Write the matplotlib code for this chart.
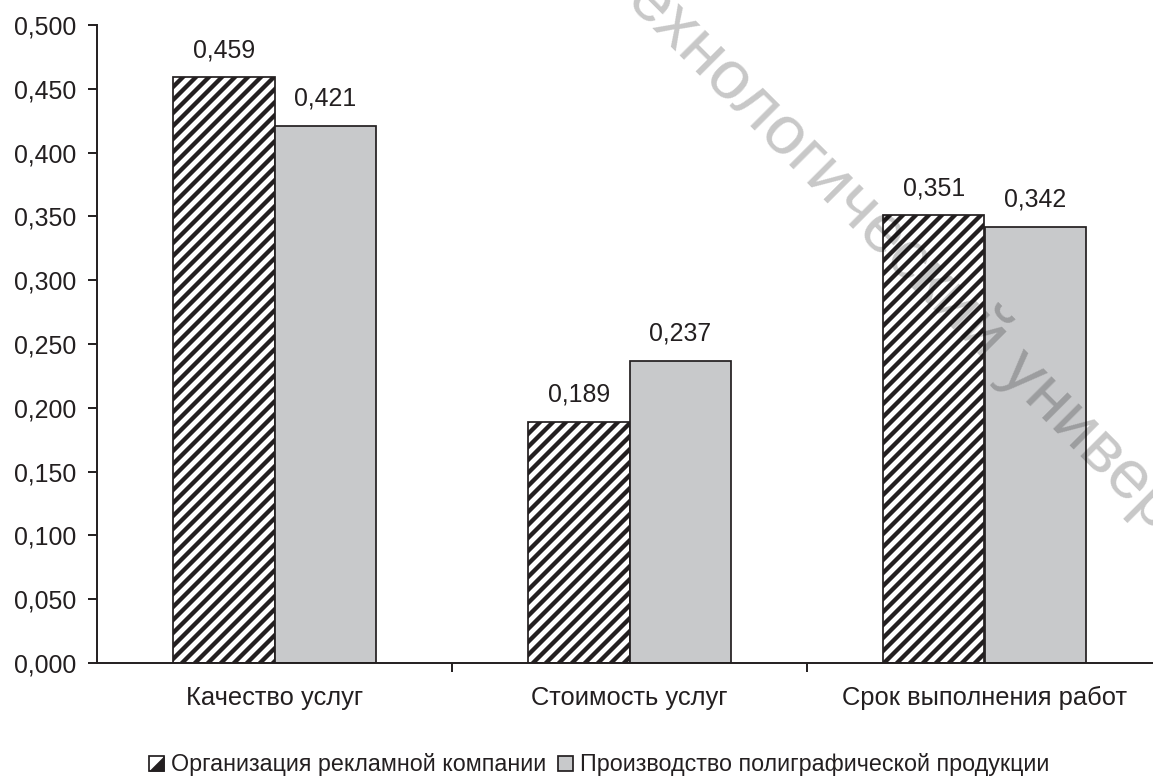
import matplotlib
matplotlib.use("Agg")
import matplotlib.pyplot as plt
import numpy as np
from matplotlib.patches import Rectangle, Polygon
from matplotlib.legend_handler import HandlerBase

categories = ["Качество услуг", "Стоимость услуг", "Срок выполнения работ"]
series_names = ["Организация рекламной компании", "Производство полиграфической продукции"]
advertising = [0.459, 0.189, 0.351]
printing = [0.421, 0.237, 0.342]
y_ticks = [0.0, 0.05, 0.10, 0.15, 0.20, 0.25, 0.30, 0.35, 0.40, 0.45, 0.50]
watermark = "технологический университет"

INK = "#231f20"
GRAY = "#c8c9cb"

plt.rcParams["font.family"] = ["Liberation Sans", "DejaVu Sans"]
plt.rcParams["hatch.linewidth"] = 4.0
plt.rcParams["hatch.color"] = INK

DPI = 78
fig = plt.figure(figsize=(1153 / DPI, 780 / DPI), dpi=DPI)
ax = fig.add_axes([97 / 1153, 1 - 663 / 780, 1065 / 1153, (663 - 25) / 780])

x = np.arange(len(categories))
w = 0.285
fs = 23

b1 = ax.bar(x - w / 2, advertising, w, facecolor="white", edgecolor=INK,
            hatch="//", linewidth=1.6, zorder=2)
b2 = ax.bar(x + w / 2, printing, w, facecolor=GRAY, edgecolor=INK,
            linewidth=1.6, zorder=2)

def fmt(v):
    return f"{v:.3f}".replace(".", ",")

for bars, vals in ((b1, advertising), (b2, printing)):
    for rect, v in zip(bars, vals):
        ax.annotate(fmt(v), (rect.get_x() + rect.get_width() / 2, v),
                    xytext=(0, 25), textcoords="offset points",
                    ha="center", va="center", fontsize=fs, color=INK)

ax.set_xlim(-0.5, len(categories) - 0.5)
ax.set_ylim(0, 0.5)
ax.set_yticks(y_ticks)
ax.set_yticklabels([fmt(t) for t in y_ticks])
ax.set_xticks(x)
ax.set_xticklabels(categories)
ax.set_xticks(np.arange(1, len(categories)) - 0.5, minor=True)

for s in ("top", "right"):
    ax.spines[s].set_visible(False)
for s in ("left", "bottom"):
    ax.spines[s].set_color(INK)
    ax.spines[s].set_linewidth(1.8)

ax.tick_params(axis="y", direction="out", length=8, width=1.8, color=INK,
               labelsize=fs, labelcolor=INK, pad=11)
ax.tick_params(axis="x", which="major", length=0, labelsize=23.5,
               labelcolor=INK, pad=21)
ax.tick_params(axis="x", which="minor", direction="out", length=8,
               width=1.8, color=INK)


class HalfFilledSquare(HandlerBase):
    def create_artists(self, legend, orig_handle, xdescent, ydescent,
                       width, height, fontsize, trans):
        x0, y0 = -xdescent, -ydescent
        sq = Rectangle((x0, y0), width, height, facecolor="white",
                       edgecolor=INK, lw=1.6, transform=trans)
        tri = Polygon([(x0, y0), (x0 + width, y0), (x0 + width, y0 + height)],
                      closed=True, facecolor=INK, edgecolor=INK, lw=0.5,
                      transform=trans)
        return [sq, tri]


h1 = Rectangle((0, 0), 1, 1, facecolor="white", edgecolor=INK)
h2 = Rectangle((0, 0), 1, 1, facecolor=GRAY, edgecolor=INK, linewidth=1.6)
fig.legend([h1, h2], series_names, loc="center",
           bbox_to_anchor=(0.52, 1 - 765 / 780), ncol=2, frameon=False,
           fontsize=21.5, handlelength=0.65, handleheight=0.65,
           handletextpad=0.3, columnspacing=0.5, labelcolor=INK,
           handler_map={h1: HalfFilledSquare()})

# diagonal watermark over the plot
fig.text(616 / 1153, 1 - (-34) / 780, watermark, rotation=-45,
         rotation_mode="anchor", ha="left", va="center", fontsize=64,
         color="black", alpha=0.22, zorder=10)

fig.savefig("out.png", dpi=DPI)
